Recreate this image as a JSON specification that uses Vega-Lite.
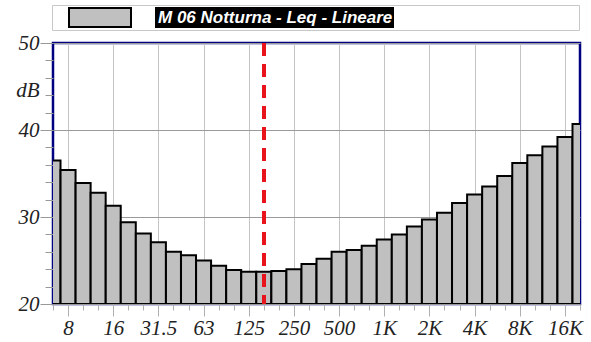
{
  "$schema": "https://vega.github.io/schema/vega-lite/v6.json",
  "width": 527,
  "height": 261,
  "autosize": "none",
  "padding": {"left": 53, "top": 43, "right": 11, "bottom": 38},
  "background": "white",
  "config": {
    "view": {"stroke": "#000080", "strokeWidth": 2.5},
    "axis": {"domain": false}
  },
  "data": {
    "values": [
      {"i": 0, "f": "6.3", "db": 36.5},
      {"i": 1, "f": "8", "db": 35.4},
      {"i": 2, "f": "10", "db": 33.9},
      {"i": 3, "f": "12.5", "db": 32.8},
      {"i": 4, "f": "16", "db": 31.3},
      {"i": 5, "f": "20", "db": 29.4},
      {"i": 6, "f": "25", "db": 28.1},
      {"i": 7, "f": "31.5", "db": 27.1},
      {"i": 8, "f": "40", "db": 26.0},
      {"i": 9, "f": "50", "db": 25.6},
      {"i": 10, "f": "63", "db": 25.0},
      {"i": 11, "f": "80", "db": 24.4},
      {"i": 12, "f": "100", "db": 23.9},
      {"i": 13, "f": "125", "db": 23.7},
      {"i": 14, "f": "160", "db": 23.7},
      {"i": 15, "f": "200", "db": 23.8},
      {"i": 16, "f": "250", "db": 24.0},
      {"i": 17, "f": "315", "db": 24.6},
      {"i": 18, "f": "400", "db": 25.2},
      {"i": 19, "f": "500", "db": 26.0},
      {"i": 20, "f": "630", "db": 26.2},
      {"i": 21, "f": "800", "db": 26.7},
      {"i": 22, "f": "1K", "db": 27.4},
      {"i": 23, "f": "1.25K", "db": 28.0},
      {"i": 24, "f": "1.6K", "db": 28.9},
      {"i": 25, "f": "2K", "db": 29.7},
      {"i": 26, "f": "2.5K", "db": 30.5},
      {"i": 27, "f": "3.15K", "db": 31.6},
      {"i": 28, "f": "4K", "db": 32.6},
      {"i": 29, "f": "5K", "db": 33.5},
      {"i": 30, "f": "6.3K", "db": 34.7},
      {"i": 31, "f": "8K", "db": 36.2},
      {"i": 32, "f": "10K", "db": 37.1},
      {"i": 33, "f": "12.5K", "db": 38.1},
      {"i": 34, "f": "16K", "db": 39.2},
      {"i": 35, "f": "20K", "db": 40.7}
    ]
  },
  "resolve": {"axis": {"x": "independent", "y": "independent"}},
  "layer": [
    {
      "mark": {"type": "bar", "clip": true, "size": 15, "strokeWidth": 2, "fill": "#c0c0c0"},
      "encoding": {
        "x": {
          "field": "i", "type": "quantitative",
          "scale": {"domain": [0, 35], "nice": false, "zero": false, "padding": 0},
          "axis": {
            "orient": "bottom",
            "title": null,
            "values": [1, 4, 7, 10, 13, 16, 19, 22, 25, 28, 31, 34],
            "labelExpr": "['6.3','8','10','12.5','16','20','25','31.5','40','50','63','80','100','125','160','200','250','315','400','500','630','800','1K','1.25K','1.6K','2K','2.5K','3.15K','4K','5K','6.3K','8K','10K','12.5K','16K','20K'][datum.value]",
            "labelFont": "Liberation Serif, Times New Roman, serif",
            "labelFontStyle": "italic",
            "labelFontSize": 21,
            "labelColor": "#222222",
            "labelPadding": 1,
            "tickSize": 12,
            "tickColor": "#b0b0b0",
            "tickWidth": 1,
            "grid": true,
            "gridColor": "#c4c4c4",
            "gridWidth": 1
          }
        },
        "y": {
          "field": "db", "type": "quantitative",
          "scale": {"domain": [20, 50], "nice": false, "zero": false},
          "axis": {
            "orient": "left",
            "title": "dB",
            "titleAngle": 0,
            "titleAlign": "right",
            "titleBaseline": "middle",
            "titleX": -14,
            "titleY": 47,
            "titleFont": "Liberation Serif, Times New Roman, serif",
            "titleFontStyle": "italic",
            "titleFontWeight": "normal",
            "titleFontSize": 21,
            "titleColor": "#222222",
            "values": [20, 30, 40, 50],
            "labelFont": "Liberation Serif, Times New Roman, serif",
            "labelFontStyle": "italic",
            "labelFontSize": 21,
            "labelColor": "#222222",
            "labelPadding": 1,
            "tickSize": 13,
            "tickColor": "#999999",
            "grid": true,
            "gridColor": "#9a9a9a",
            "gridWidth": 1
          }
        },
        "y2": {"datum": 20},
        "stroke": {
          "datum": "M 06 Notturna - Leq - Lineare",
          "scale": {"range": ["#000000"]},
          "legend": {
            "orient": "none",
            "legendX": -1,
            "legendY": -38,
            "zindex": 2,
            "title": null,
            "padding": 2,
            "clipHeight": 21,
            "strokeColor": "#c8c8c8",
            "symbolType": "M-1,-0.306L1,-0.306L1,0.306L-1,0.306Z",
            "symbolSize": 3844,
            "symbolOffset": 14,
            "labelOffset": 26,
            "labelLimit": 700,
            "labelExpr": "datum.label + '\u00a0\u00a0\u00a0\u00a0\u00a0\u00a0\u00a0\u00a0\u00a0\u00a0\u00a0\u00a0\u00a0\u00a0\u00a0\u00a0\u00a0\u00a0\u00a0\u00a0\u00a0\u00a0\u00a0\u00a0\u00a0\u00a0\u00a0\u00a0\u00a0\u00a0\u00a0\u00a0\u00a0\u00a0\u00a0\u00a0\u00a0\u00a0\u00a0\u200b'",
            "labelFont": "Liberation Sans",
            "labelFontStyle": "italic",
            "labelFontWeight": "bold",
            "labelFontSize": 17,
            "labelColor": "#ffffff",
            "encoding": {
              "symbols": {"fill": {"value": "#c0c0c0"}, "stroke": {"value": "#000000"}, "strokeWidth": {"value": 2}, "opacity": {"value": 1}}
            }
          }
        }
      }
    },
    {
      "mark": {"type": "rule", "stroke": "#e8141c", "strokeWidth": 3, "strokeDash": [13, 8]},
      "encoding": {
        "x": {
          "datum": 14, "type": "quantitative",
          "axis": {
            "orient": "bottom",
            "title": null,
            "values": [0, 1, 2, 3, 4, 5, 6, 7, 8, 9, 10, 11, 12, 13, 14, 15, 16, 17, 18, 19, 20, 21, 22, 23, 24, 25, 26, 27, 28, 29, 30, 31, 32, 33, 34, 35],
            "labels": false,
            "grid": false,
            "tickSize": 6,
            "tickColor": "#b0b0b0",
            "tickWidth": 1
          }
        },
        "y": {
          "datum": 50, "type": "quantitative",
          "axis": {
            "orient": "left",
            "title": null,
            "values": [22, 24, 26, 28, 32, 34, 36, 38, 42, 44, 46, 48],
            "labels": false,
            "grid": false,
            "tickSize": 8,
            "tickColor": "#999999"
          }
        },
        "y2": {"datum": 20},
        "fill": {
          "datum": "bg",
          "scale": {"range": ["#000000"]},
          "legend": {
            "orient": "none",
            "legendX": 102,
            "legendY": -36,
            "zindex": 1,
            "title": null,
            "padding": 0,
            "clipHeight": 21,
            "symbolType": "M-1,-0.088L1,-0.088L1,0.088L-1,0.088Z",
            "symbolSize": 57121,
            "labelExpr": "''",
            "labelOpacity": 0,
            "encoding": {
              "symbols": {"fill": {"value": "#000000"}, "stroke": {"value": "#000000"}, "strokeWidth": {"value": 0}, "opacity": {"value": 1}, "fillOpacity": {"value": 1}}
            }
          }
        }
      }
    }
  ]
}
